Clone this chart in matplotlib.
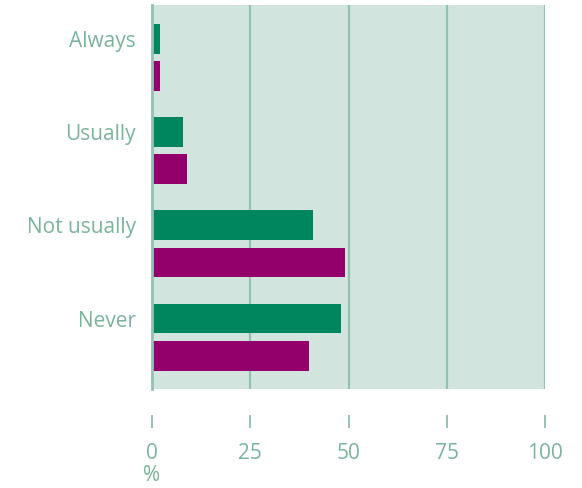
import numpy as np
import matplotlib.pyplot as plt
import matplotlib as mpl

mpl.rcParams['font.family'] = ['Open Sans', 'DejaVu Sans']

categories = ['Always', 'Usually', 'Not usually', 'Never']
series_a = [2, 8, 41, 48]   # green
series_b = [2, 9, 49, 40]   # purple
xticks = [0, 25, 50, 75, 100]

GREEN = '#00865f'
PURPLE = '#93006c'
BG = '#d2e4de'
LINE = '#93c3b0'
TEXT = '#7ab49c'

fig = plt.figure(figsize=(5.82, 4.88), dpi=100)
ax = fig.add_axes([152 / 582, 1 - 389 / 488, (545 - 152) / 582, 384 / 488])
ax.set_facecolor(BG)

y = np.arange(len(categories))
h = 0.32
ax.barh(y - 0.2, series_a, height=h, color=GREEN, zorder=3)
ax.barh(y + 0.2, series_b, height=h, color=PURPLE, zorder=3)

ax.set_xlim(0, 100)
ax.set_ylim(3.555, -0.56)

# gridlines
for v in xticks[1:]:
    ax.axvline(v, color=LINE, lw=1.6, zorder=1)

for s in ['top', 'right', 'bottom']:
    ax.spines[s].set_visible(False)
ax.spines['left'].set_color(LINE)
ax.spines['left'].set_linewidth(2)
ax.spines['left'].set_zorder(4)
ax.spines['bottom'].set_position(('outward', 18.7))

ax.set_xticks(xticks)
ax.tick_params(axis='x', length=9.4, width=1.4, color=LINE, labelcolor=TEXT,
               labelsize=15, pad=10.5)
ax.set_yticks(y - 0.2)
ax.set_yticklabels(categories)
ax.tick_params(axis='y', length=0, labelcolor=TEXT, labelsize=15, pad=11.5)

ax.text(0, -0.226, '%', transform=ax.get_xaxis_transform(), ha='center',
        va='center', color=TEXT, fontsize=15)

plt.savefig('out.png', dpi=100)
